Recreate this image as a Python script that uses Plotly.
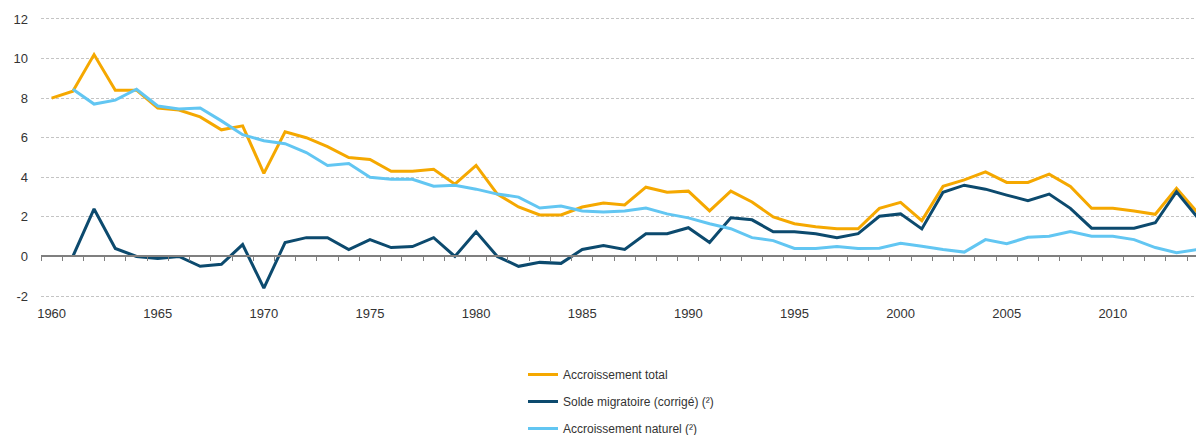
import plotly.graph_objects as go

years = list(range(1960, 2015))

total = [8.0, 8.35, 10.2, 8.4, 8.4, 7.5, 7.4, 7.05, 6.4, 6.6,
         4.2, 6.3, 6.0, 5.55, 5.0, 4.9, 4.3, 4.3, 4.4, 3.65,
         4.6, 3.15, 2.5, 2.1, 2.1, 2.5, 2.7, 2.6, 3.5, 3.25,
         3.3, 2.3, 3.3, 2.75, 2.0, 1.65, 1.5, 1.4, 1.4, 2.43,
         2.73, 1.81, 3.54, 3.87, 4.27, 3.74, 3.74, 4.16, 3.54, 2.43,
         2.43, 2.3, 2.13, 3.44, 2.2]

migr = [None, 0.0, 2.4, 0.4, 0.0, -0.1, 0.0, -0.5, -0.4, 0.6,
        -1.6, 0.7, 0.95, 0.95, 0.35, 0.85, 0.45, 0.5, 0.95, 0.0,
        1.25, 0.0, -0.5, -0.3, -0.35, 0.35, 0.55, 0.35, 1.15, 1.15,
        1.45, 0.7, 1.95, 1.85, 1.25, 1.25, 1.15, 0.95, 1.15, 2.03,
        2.15, 1.39, 3.24, 3.6, 3.4, 3.1, 2.82, 3.15, 2.43, 1.43,
        1.43, 1.43, 1.7, 3.27, 1.95]

natural = [None, 8.45, 7.7, 7.9, 8.45, 7.6, 7.45, 7.5, 6.85, 6.15,
           5.85, 5.7, 5.25, 4.6, 4.7, 4.0, 3.9, 3.9, 3.55, 3.6,
           3.4, 3.15, 3.0, 2.45, 2.55, 2.3, 2.25, 2.3, 2.45, 2.15,
           1.95, 1.65, 1.4, 0.95, 0.8, 0.4, 0.4, 0.5, 0.4, 0.42,
           0.67, 0.52, 0.35, 0.22, 0.85, 0.64, 0.97, 1.02, 1.26, 1.02,
           1.02, 0.85, 0.45, 0.19, 0.35]

series_names = ["Accroissement total", "Solde migratoire (corrigé) (²)", "Accroissement naturel (²)"]
series_colors = ["#F5A800", "#0C4A6E", "#62C6F2"]
series_values = [total, migr, natural]

y_ticks = [-2, 0, 2, 4, 6, 8, 10, 12]
x_label_years = [1960, 1965, 1970, 1975, 1980, 1985, 1990, 1995, 2000, 2005, 2010]

W, H = 1196, 435
left_px = 40.7
year_px = 21.23
x_lo = 1959.5
x_hi = x_lo + (W - left_px) / year_px
y_lo, y_hi = -2.1, 12.1

fig = go.Figure()
for i, (name, col, vals) in enumerate(zip(series_names, series_colors, series_values)):
    fig.add_trace(go.Scatter(
        x=years, y=vals, name=name, mode="lines",
        line=dict(color=col, width=3), legendgroup=f"g{i}",
        connectgaps=False, cliponaxis=True,
    ))

# invisible trace to anchor the zero-positioned axis with half-year tick marks
fig.add_trace(go.Scatter(x=years, y=total, xaxis="x2", mode="lines",
                         line=dict(width=0), opacity=0, showlegend=False,
                         hoverinfo="skip"))

half_years = [y + 0.5 for y in range(1959, 2014)]

fig.update_layout(
    width=W, height=H,
    margin=dict(l=left_px, r=0, t=16.7, b=137, autoexpand=False),
    paper_bgcolor="white", plot_bgcolor="white",
    font=dict(family="Liberation Sans, Arial, sans-serif", size=13, color="#333333"),
    xaxis=dict(
        range=[x_lo, x_hi], autorange=False,
        tickvals=x_label_years, ticktext=[str(v) for v in x_label_years],
        showgrid=False, zeroline=False, showline=False, ticks="",
        ticklabelstandoff=6, tickfont=dict(size=13, color="#333333"),
    ),
    xaxis2=dict(
        overlaying="x", anchor="free", range=[x_lo, x_hi], autorange=False,
        position=(0 - y_lo) / (y_hi - y_lo),
        tickvals=half_years, showticklabels=False,
        ticks="outside", ticklen=4, tickwidth=1, tickcolor="#7f7f7f",
        showline=True, linecolor="#7f7f7f", linewidth=1.5,
        showgrid=False, zeroline=False,
    ),
    yaxis=dict(
        range=[y_lo, y_hi], autorange=False,
        tickvals=y_ticks, ticktext=[str(v) for v in y_ticks],
        showgrid=True, gridcolor="#c4c4c4", griddash="3px,2px", gridwidth=1,
        zeroline=False, showline=False, ticks="",
        ticklabelstandoff=12, tickfont=dict(size=13, color="#333333"),
    ),
    legend=dict(
        xref="container", yref="container",
        x=523 / W, y=(H - 360) / H, xanchor="left", yanchor="top",
        orientation="v", font=dict(size=12, color="#333333"),
        tracegroupgap=8, bgcolor="rgba(0,0,0,0)",
    ),
    showlegend=True,
)

fig.write_html("out.html", config={"displayModeBar": False},
               post_script="document.body.style.margin='0px';document.body.style.overflow='hidden';")
